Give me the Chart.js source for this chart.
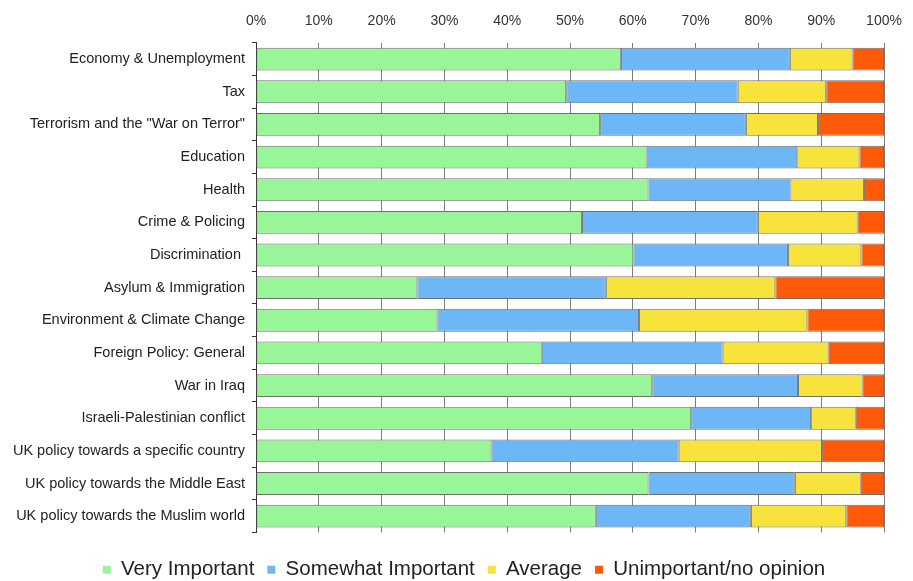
<!DOCTYPE html>
<html><head><meta charset="utf-8">
<script src="https://cdn.jsdelivr.net/npm/chart.js@4/dist/chart.umd.min.js"></script>
<style>html,body{margin:0;padding:0;background:#fff}#wrap{width:913px;height:581px}</style>
</head><body><div id="wrap"><canvas id="c" width="913" height="581"></canvas></div>
<script>
const categories = ["Economy & Unemployment","Tax","Terrorism and the \"War on Terror\"","Education","Health","Crime & Policing","Discrimination ","Asylum & Immigration","Environment & Climate Change","Foreign Policy: General","War in Iraq","Israeli-Palestinian conflict","UK policy towards a specific country","UK policy towards the Middle East","UK policy towards the Muslim world"];
const veryImportant     = [58.1,49.4,54.8,62.2,62.5,51.9,60.1,25.7,28.9,45.5,63.1,69.3,37.5,62.5,54.1];
const somewhatImportant = [26.9,27.3,23.2,24.0,22.6,28.0,24.6,30.0,32.1,28.8,23.2,19.1,29.8,23.3,24.7];
const average           = [10.0,14.1,11.5,9.9,11.7,15.9,11.7,27.0,26.8,16.9,10.3,7.1,22.8,10.5,15.2];
const unimportant       = [5.0,9.2,10.5,3.9,3.2,4.2,3.6,17.3,12.2,8.8,3.4,4.5,9.9,3.7,6.0];
const seriesNames = ["Very Important","Somewhat Important","Average","Unimportant/no opinion"];
const xTicks = [0,10,20,30,40,50,60,70,80,90,100];

const colors = ["#98F598","#6DB7F7","#F8E23C","#FF5A0A"];
const vals = [veryImportant, somewhatImportant, average, unimportant];
const shiftLegend = { id: 'shiftLegend', afterLayout(chart) { const l = chart.legend; if (l) { l.left += 22; l.right += 22; } } };
new Chart(document.getElementById('c'), {
  type: 'bar',
  plugins: [shiftLegend],
  data: {
    labels: categories,
    datasets: seriesNames.map((n,i)=>({
      label: n, data: vals[i], backgroundColor: colors[i],
      borderColor: '#6f6f6f', borderWidth: 1, borderSkipped: false,
      barPercentage: 0.70, categoryPercentage: 1
    }))
  },
  options: {
    indexAxis: 'y', responsive: false, animation: false,
    layout: { padding: { top: 0, right: 29, left: 0, bottom: -9 } },
    scales: {
      x: {
        position: 'top', stacked: true, min: 0, max: 100,
        afterBuildTicks: s => { s.ticks = xTicks.map(v=>({value:v})); },
        afterFit: s => { s.paddingRight = 0; s.paddingLeft = 0; },
        ticks: { callback: v => v + '%', color: '#333', font: { family: 'Liberation Sans', size: 14 }, padding: 13, maxRotation: 0 },
        grid: { color: '#7d7d7d', lineWidth: 1, drawTicks: false },
        border: { display: false }
      },
      y: {
        stacked: true,
        afterFit: s => { s.width = 256; },
        ticks: { color: '#222', font: { family: 'Liberation Sans', size: 14.5 }, padding: 7, autoSkip: false },
        grid: { drawOnChartArea: false, color: '#333', tickLength: 4, offset: true },
        border: { display: true, color: '#333' }
      }
    },
    plugins: {
      legend: {
        position: 'bottom',
        title: { display: true, text: ' ', font: { size: 2 }, padding: { top: 11.6, bottom: 0 } },
        labels: {
          usePointStyle: true, pointStyle: 'rect', boxWidth: 8, boxHeight: 8, padding: 13, color: '#222',
          font: { family: 'Liberation Sans', size: 20.5 },
          generateLabels: chart => Chart.defaults.plugins.legend.labels.generateLabels(chart).map(it => Object.assign(it, { lineWidth: 0, strokeStyle: it.fillStyle }))
        }
      },
      tooltip: { enabled: false }
    }
  }
});
</script></body></html>
